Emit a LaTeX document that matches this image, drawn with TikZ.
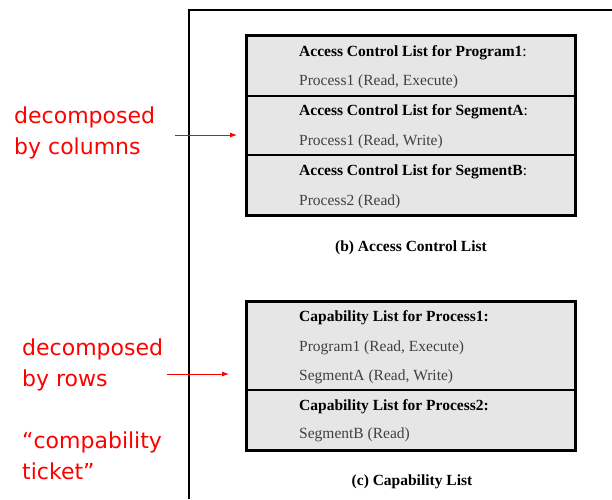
\documentclass[tikz,border=0pt]{standalone}
\usepackage{fontspec}
\setmainfont{Liberation Serif}
\newfontfamily\notefont{DejaVu Sans}
\usetikzlibrary{arrows.meta, positioning}
\definecolor{ListGray}{HTML}{E6E6E6}
\definecolor{NoteRed}{HTML}{FF0000}

\begin{document}
\begin{tikzpicture}[
    x=1pt, y=-1pt,
    row/.style={draw=black, line width=1.6pt, fill=ListGray, minimum width=328pt, inner sep=0pt, anchor=north west},
    head/.style={anchor=west, inner sep=0pt, font=\fontsize{15.5}{18}\selectfont\bfseries},
    entry/.style={anchor=west, inner sep=0pt, text=black!75, font=\fontsize{15.5}{18}\selectfont},
    caption/.style={inner sep=0pt, font=\fontsize{15.5}{18}\selectfont\bfseries},
    note/.style={anchor=north west, inner sep=0pt, align=left, text=NoteRed, font=\notefont\fontsize{22}{31}\selectfont},
    pointer/.style={draw=NoteRed, line width=0.8pt, -{Latex[length=7pt, width=5pt]}}
]
\useasboundingbox (0,0) rectangle (612,499);

% frame of the figure
\draw[line width=1.2pt] (189,499) -- (189,10) -- (612,10);

% (b) access control list
\node[row, minimum height=60pt] (acl1) at (246,35) {};
\node[row, minimum height=59pt] (acl2) at (246,95) {};
\node[row, minimum height=60pt] (acl3) at (246,154) {};
\draw[line width=2.4pt] (acl1.north west) rectangle (acl3.south east);
\node[head] (acl1h) at (299,53) {Access Control List for Program1\textmd{:}};
\node[entry] (acl1e) at (299,82) {Process1 (Read, Execute)};
\node[head] (acl2h) at (299,112) {Access Control List for SegmentA\textmd{:}};
\node[entry] (acl2e) at (299,142) {Process1 (Read, Write)};
\node[head] (acl3h) at (299,172) {Access Control List for SegmentB\textmd{:}};
\node[entry] (acl3e) at (299,202) {Process2 (Read)};
\node[caption] (aclcap) at (411,248) {(b) Access Control List};

% (c) capability list
\node[row, minimum height=88pt] (cap1) at (246,301) {};
\node[row, minimum height=60pt] (cap2) at (246,389) {};
\draw[line width=2.4pt] (cap1.north west) rectangle (cap2.south east);
\node[head] (cap1h) at (299,318) {Capability List for Process1:};
\node[entry] (cap1e) at (299,348) {Program1 (Read, Execute)};
\node[entry] (cap1f) at (299,377) {SegmentA (Read, Write)};
\node[head] (cap2h) at (299,407) {Capability List for Process2:};
\node[entry] (cap2e) at (299,435) {SegmentB (Read)};
\node[caption] (capcap) at (412,482) {(c) Capability List};

% red notes
\node[note] (cols) at (14,107) {decomposed\\by columns};
\node[note] (rows) at (22,339) {decomposed\\by rows};
\node[note] (ticket) at (22,432) {“compability\\ticket”};

\coordinate (colsfrom) at (175,135);
\coordinate (rowsfrom) at (167,374);
\draw[pointer, shorten >=9pt] (colsfrom) -- (colsfrom -| acl2.west);
\draw[pointer, shorten >=17pt] (rowsfrom) -- (rowsfrom -| cap1.west);
\end{tikzpicture}
\end{document}
